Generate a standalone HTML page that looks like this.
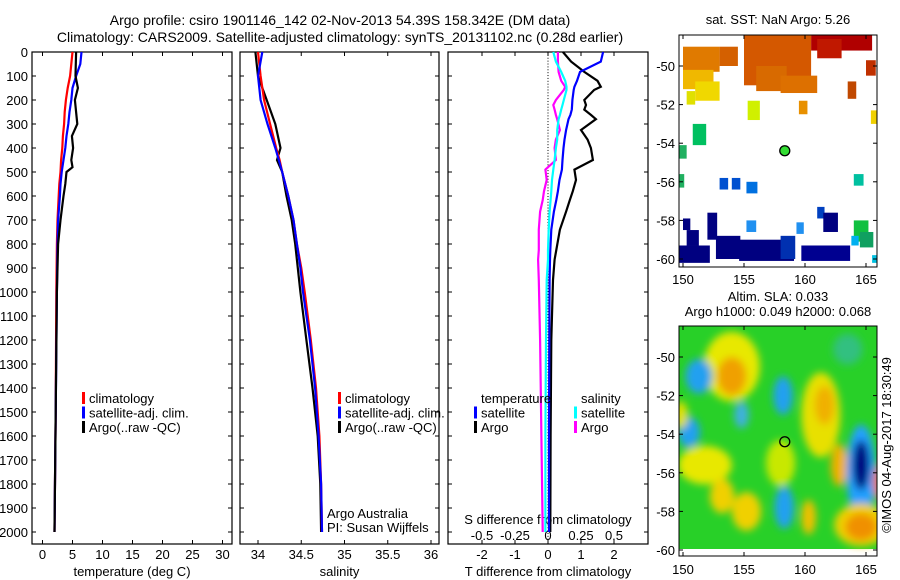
<!DOCTYPE html>
<html><head><meta charset="utf-8"><style>
body{margin:0;background:#fff}
svg{display:block;font-family:"Liberation Sans",sans-serif}
text{font-size:13px;fill:#000}
</style></head><body>
<svg id="c" width="900" height="580" viewBox="0 0 900 580">
<defs><filter id="bl" x="-50%" y="-50%" width="200%" height="200%"><feGaussianBlur stdDeviation="4"/></filter>
<clipPath id="cp2"><rect x="679" y="326" width="198" height="230"/></clipPath></defs>
<text x="340" y="25" text-anchor="middle" style="font-size:14px">Argo profile: csiro 1901146_142 02-Nov-2013 54.39S 158.342E (DM data)</text>
<text x="340" y="42" text-anchor="middle" style="font-size:14px">Climatology: CARS2009. Satellite-adjusted climatology: synTS_20131102.nc (0.28d earlier)</text>
</svg>
<script>
const depT=[0,50,100,150,200,250,300,350,400,450,500,550,600,700,800,1000,1500,2000];
const tClim=[5.0,4.8,4.6,4.2,3.9,3.7,3.6,3.4,3.3,3.1,3.0,2.8,2.7,2.5,2.4,2.3,2.2,2.0];
const tSat=[6.5,6.3,5.6,5.0,4.8,4.5,4.3,4.0,3.8,3.5,3.2,3.0,2.9,2.6,2.5,2.4,2.2,2.0];
const depA=[0,100,150,200,250,300,350,400,450,480,500,550,600,700,800,1000,1500,2000];
const tArgo=[5.6,5.5,5.9,5.4,5.6,5.8,4.9,5.1,4.8,5.0,4.0,3.8,3.5,3.0,2.6,2.4,2.2,2.0];
const depS=[0,100,200,300,400,450,500,600,700,800,900,1000,1200,1400,1600,1800,2000];
const sClim=[34.0,34.03,34.07,34.14,34.21,34.25,34.28,34.35,34.41,34.45,34.5,34.54,34.61,34.67,34.71,34.73,34.74];
const sSat=[34.05,34.0,34.03,34.11,34.2,34.24,34.28,34.35,34.41,34.45,34.49,34.52,34.6,34.66,34.7,34.73,34.74];
const sArgo=[33.97,34.0,34.1,34.2,34.26,34.22,34.28,34.33,34.39,34.43,34.46,34.49,34.56,34.63,34.69,34.72,34.73];
const depD=[0,40,83,120,145,158,200,221,240,262,280,325,365,400,450,490,533,580,617,665,740,825,865,950,1200,1600,2000];
const dTSat=[1.67,1.6,0.97,0.88,0.8,0.78,0.74,0.73,0.72,0.68,0.62,0.55,0.5,0.47,0.44,0.42,0.35,0.3,0.25,0.18,0.1,0.07,0.06,0.05,0.04,0.03,0.03];
const dTArgo=[0.45,0.7,1.1,1.5,1.6,1.4,1.1,1.15,1.1,1.3,1.45,1.0,1.2,1.3,1.36,0.8,0.85,0.75,0.66,0.55,0.36,0.25,0.2,0.15,0.1,0.08,0.07];
const dSSat=[0.04,0.06,0.1,0.13,0.14,0.14,0.12,0.11,0.1,0.09,0.08,0.07,0.07,0.06,0.05,0.04,0.03,0.025,0.02,0.012,0.005,0.0,0.0,-0.01,-0.015,-0.02,-0.02];
const dSArgo=[0.075,0.075,0.08,0.1,0.13,0.12,0.06,0.04,0.05,0.06,0.07,0.09,0.06,0.05,0.06,-0.02,-0.01,-0.03,-0.04,-0.06,-0.07,-0.07,-0.075,-0.07,-0.06,-0.05,-0.04];
const tTicks=[0,5,10,15,20,25,30];
const sTicks=[34,34.5,35,35.5,36];
const dTTicks=[-2,-1,0,1,2];
const dSTicks=[-0.5,-0.25,0,0.25,0.5];
const dTickLabels=["-0.5","-0.25","0","0.25","0.5"];
const depthTicks=[0,100,200,300,400,500,600,700,800,900,1000,1100,1200,1300,1400,1500,1600,1700,1800,1900,2000];
const svg=document.getElementById('c');const NS='http://www.w3.org/2000/svg';
function mk(t,a,p){const e=document.createElementNS(NS,t);for(const k in a)e.setAttribute(k,a[k]);(p||svg).appendChild(e);return e;}
function txt(x,y,s,anc,p){const e=mk('text',{x:x,y:y,'text-anchor':anc||'start'},p);e.textContent=s;return e;}
const yD=d=>52+0.24*d;
const PT=0,PB=544;
const xT=v=>42.5+6*v, xS=v=>258+86.5*(v-34), xDT=v=>548+33*v, xDS=v=>548+132*v;
function frame(x0,x1,ticks,sc,labels,title,name){
  const g=mk('g',{});
  
  
  mk('rect',{x:x0,y:PT+52,width:x1-x0,height:PB-52,fill:'none',stroke:'#000','stroke-width':1.2},g);
  depthTicks.forEach(d=>{mk('line',{x1:x0,x2:x0+4,y1:yD(d),y2:yD(d),stroke:'#000'},g);mk('line',{x1:x1-4,x2:x1,y1:yD(d),y2:yD(d),stroke:'#000'},g);
    if(x0<40){const t=txt(28,yD(d)+5,String(d),'end',g);}});
  ticks.forEach((v,i)=>{const x=sc(v);mk('line',{x1:x,x2:x,y1:PB,y2:PB-4,stroke:'#000'},g);mk('line',{x1:x,x2:x,y1:52,y2:56,stroke:'#000'},g);
    const t=txt(x,559,labels[i],'middle',g);});
  const tt=txt((x0+x1)/2,576,title,'middle',g);
  return g;}
function line(xs,ds,sc,col,name,w){const pts=xs.map((v,i)=>sc(v).toFixed(1)+','+yD(ds[i]).toFixed(1)).join(' ');
  const e=mk('polyline',{points:pts,fill:'none',stroke:col,'stroke-width':w||2.2});}
frame(32,232,tTicks,xT,tTicks.map(String),'temperature (deg C)','temperature-panel');
frame(240,439,sTicks,xS,sTicks.map(String),'salinity','salinity-panel');
frame(448,648,dTTicks,xDT,dTTicks.map(String),'T difference from climatology','difference-panel');
dSTicks.forEach((v,i)=>{const t=txt(xDS(v),540,dTickLabels[i],'middle');});
{const t=txt(548,524,'S difference from climatology','middle');}
for(let d=0;d<2050;d+=12)mk('rect',{x:547.5,y:yD(d),width:1,height:1,fill:'#000'});
line(tClim,depT,xT,'#f00','temp-climatology-line');line(tSat,depT,xT,'#00f','temp-satellite-line');line(tArgo,depA,xT,'#000','temp-argo-line');
line(sArgo,depS,xS,'#000','sal-argo-line');line(sClim,depS,xS,'#f00','sal-climatology-line');line(sSat,depS,xS,'#00f','sal-satellite-line');
line(dTArgo,depD,xDT,'#000','dT-argo-line');line(dTSat,depD,xDT,'#00f','dT-satellite-line');line(dSArgo,depD,xDS,'#f0f','dS-argo-line');line(dSSat,depD,xDS,'#0ff','dS-satellite-line');
function legend(x,y,items){items.forEach((it,i)=>{const g=mk('g',{});
  if(it[1])mk('rect',{x:x,y:y+i*14.5-6,width:3,height:12,fill:it[1]},g);txt(x+7,y+i*14.5+5,it[0],'start',g);});}
legend(82,398,[['climatology','#f00'],['satellite-adj. clim.','#00f'],['Argo(..raw -QC)','#000']]);
legend(338,398,[['climatology','#f00'],['satellite-adj. clim.','#00f'],['Argo(..raw -QC)','#000']]);
legend(474,398,[['temperature',null],['satellite','#00f'],['Argo','#000']]);
legend(574,398,[['salinity',null],['satellite','#0ff'],['Argo','#f0f']]);
{const t=txt(327,518,'Argo Australia');
 const u=txt(327,532,'PI: Susan Wijffels');}
const lonTicks=[150,155,160,165], latTicks=[50,52,54,56,58,60];
const mx=l=>683+(l-150)*12.2;
function map(y0,name){const my=la=>y0+31+(la-50)*19.3;
  const g=mk('g',{});
  return {g,my};}
const sstCells=[[160.5,48.4,5,0.8,'#b00000'],[161,48.6,2,1,'#c01800'],[155,48.4,5.5,2.6,'#d45800'],[156,50,2.5,1.3,'#d86a00'],[158,50.5,3,0.9,'#dd7000'],[150,49,3,1.3,'#e07a00'],[150,50.2,2.5,1,'#f0b800'],[151,50.8,2,1,'#f0d800'],[153,49,1.5,1,'#d46000'],[165,49.7,0.8,0.8,'#c03000'],[163.5,50.8,0.7,0.9,'#c04800'],[159.5,51.8,0.7,0.7,'#e89000'],[165.4,52.3,0.7,0.7,'#f0d000'],[150.3,51.3,0.7,0.7,'#e0e000'],[155.3,51.8,1,1,'#d0f000'],[150.8,53,1.1,1.1,'#00c060'],[149.7,54.1,0.6,0.7,'#20b060'],[149.7,55.6,0.4,0.7,'#20b060'],[153,55.8,0.7,0.6,'#0050d0'],[154,55.8,0.7,0.6,'#0050d0'],[155.2,56,0.9,0.6,'#0070e0'],[149.7,59.3,2.5,0.9,'#000080'],[150,57.9,0.6,0.6,'#000080'],[150.3,58.5,1,0.8,'#000080'],[152,57.6,0.8,1.4,'#000080'],[152.7,58.8,2,1.2,'#000080'],[154.6,59,4.5,1.1,'#000080'],[158,58.8,1.2,1.2,'#0030b0'],[159.7,59.3,4,0.8,'#000090'],[161,57.3,0.6,0.6,'#0040c0'],[161.5,57.6,1.2,1,'#000080'],[155.2,58,0.8,0.6,'#2090f0'],[159.3,58.1,0.6,0.6,'#2090f0'],[164,58,1.2,1.1,'#10c040'],[164.5,58.6,1.1,0.8,'#10a060'],[163.8,58.8,0.6,0.5,'#00b0f0'],[164,55.6,0.8,0.6,'#00c0a0'],[165.5,59.8,0.8,0.4,'#00c0e0']];
{const {g,my}=map(35,'sst-map');
 sstCells.forEach(c=>{const r=mk('rect',{x:mx(c[0]),y:my(c[1]),width:c[2]*12.2,height:c[3]*19.3,fill:c[4]},g);});
 mk('rect',{x:649,y:0,width:30,height:300,fill:'#fff'},g);mk('rect',{x:679,y:0,width:221,height:35,fill:'#fff'},g);mk('rect',{x:877,y:0,width:23,height:300,fill:'#fff'},g);
 mk('rect',{x:679,y:35,width:198,height:232,fill:'none',stroke:'#000'},g);
 lonTicks.forEach(l=>{mk('line',{x1:mx(l),x2:mx(l),y1:267,y2:263,stroke:'#000'},g);mk('line',{x1:mx(l),x2:mx(l),y1:35,y2:39,stroke:'#000'},g);txt(mx(l),284,String(l),'middle',g);});
 latTicks.forEach(l=>{mk('line',{x1:679,x2:683,y1:my(l),y2:my(l),stroke:'#000'},g);mk('line',{x1:873,x2:877,y1:my(l),y2:my(l),stroke:'#000'},g);txt(675,my(l)+5,'-'+l,'end',g);});
 const m=mk('circle',{cx:mx(158.342),cy:my(54.39),r:5,fill:'#3d3',stroke:'#000','stroke-width':1.3},g);
 txt(778,24,'sat. SST: NaN Argo: 5.26','middle',g);}
const slaBlobs=[[154,50.5,2.3,1.8,'#e8e800'],[154,51,1.2,1,'#f0a000'],[151.3,51,1.1,0.9,'#20a0f0'],[158.2,52,0.8,1,'#20a0f0'],[154.8,53,0.6,0.7,'#40b0e0'],[150.5,53.9,0.9,0.8,'#20a0f0'],[161.3,53,1.6,2.2,'#e8e000'],[161.6,52.5,0.8,1,'#f0b000'],[151.8,55.6,2.2,1,'#e8e800'],[158,55.5,1.2,1.2,'#c8e800'],[162.8,55.6,0.7,1.1,'#f0b000'],[164.6,56,1.2,2.5,'#20a0ff'],[164.6,55.6,0.7,1.3,'#000080'],[166.5,56.5,0.9,1,'#f07000'],[158.3,57.8,0.8,1.1,'#20a0f0'],[160.3,58.3,0.6,0.9,'#f0c000'],[164.6,58.7,2.2,1.1,'#f0d000'],[164.6,58.8,1.3,0.7,'#f09000'],[153.2,57.2,1,0.9,'#f0d000'],[155.2,58,1.2,1,'#f0d000'],[149.8,53,0.6,0.7,'#e0e000'],[163.5,49.6,1.2,0.8,'#30c080']];
{const {g,my}=map(326,'sla-map');
 mk('rect',{x:679,y:326,width:198,height:223,fill:'#28d028'},g);
 const bg=mk('g',{'clip-path':'url(#cp2)'},g);const fb=mk('g',{filter:'url(#bl)'},bg);
 slaBlobs.forEach(b=>{const e=mk('ellipse',{cx:mx(b[0]),cy:my(b[1]),rx:b[2]*12.2,ry:b[3]*19.3,fill:b[4]},fb);});
 mk('rect',{x:679,y:326,width:198,height:230,fill:'none',stroke:'#000'},g);
 lonTicks.forEach(l=>{mk('line',{x1:mx(l),x2:mx(l),y1:556,y2:552,stroke:'#000'},g);mk('line',{x1:mx(l),x2:mx(l),y1:326,y2:330,stroke:'#000'},g);txt(mx(l),574,String(l),'middle',g);});
 latTicks.forEach(l=>{mk('line',{x1:679,x2:683,y1:my(l),y2:my(l),stroke:'#000'},g);mk('line',{x1:873,x2:877,y1:my(l),y2:my(l),stroke:'#000'},g);txt(675,my(l)+5,'-'+l,'end',g);});
 const m=mk('circle',{cx:mx(158.342),cy:my(54.39),r:5,fill:'none',stroke:'#000','stroke-width':1.3},g);
 txt(778,301,'Altim. SLA: 0.033','middle',g);txt(778,316,'Argo h1000: 0.049 h2000: 0.068','middle',g);
 const c=txt(0,0,'©IMOS 04-Aug-2017 18:30:49','middle',g);c.setAttribute('transform','translate(891,445) rotate(-90)');}
</script>
</body></html>
